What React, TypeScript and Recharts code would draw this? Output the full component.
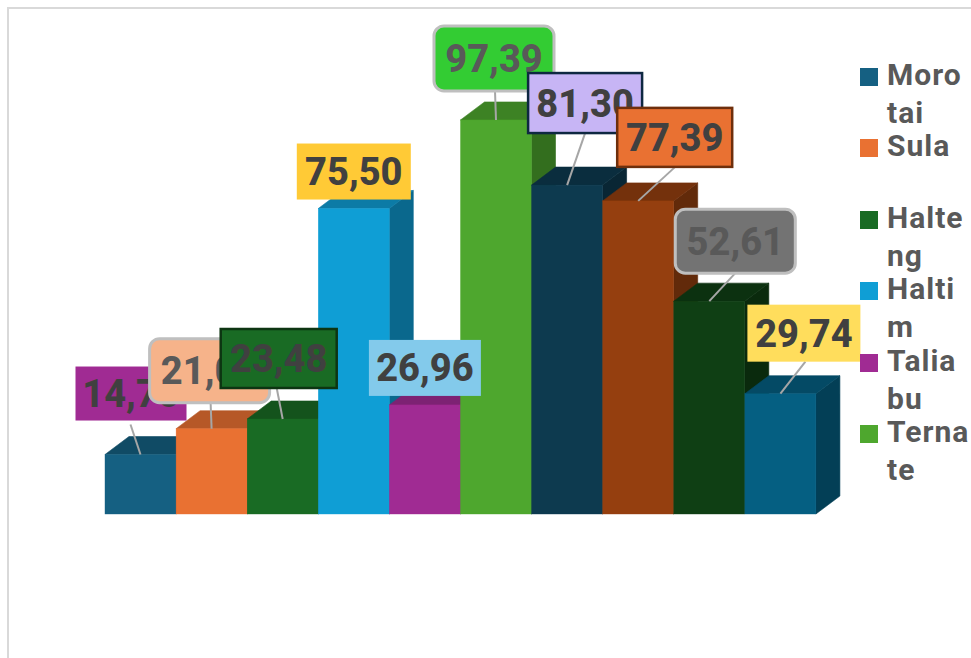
import { BarChart, Bar, XAxis, YAxis, Legend, LabelList } from "recharts";

const categories = ["Morotai", "Sula", "Halteng", "Haltim", "Taliabu", "Ternate", "7", "8", "9", "10"];
const values = [14.7, 21.08, 23.48, 75.5, 26.96, 97.39, 81.3, 77.39, 52.61, 29.74];
const legendNames = ["Morotai", "Sula", "Halteng", "Haltim", "Taliabu", "Ternate"];

const barColors = ["#156082", "#e97132", "#196b24", "#0f9ed5", "#a02b93", "#4ea72e", "#0d3a4f", "#953f0f", "#0f3f14", "#055f82"];

// label box: offset from the top centre of the bar, size, look, leader start
const labelBoxes = [
  { dx: -65, dy: -88, w: 111, h: 54, fill: "#a02b93", stroke: "none", rx: 0, text: "#404040", lx: -10, ly: -30 },
  { dx: -62, dy: -90, w: 120, h: 64, fill: "#f6b38a", stroke: "#bfbfbf", rx: 10, text: "#595959", lx: -1, ly: -26 },
  { dx: -62, dy: -90, w: 116, h: 59, fill: "#196b24", stroke: "#0d3512", rx: 0, text: "#404040", lx: -6, ly: -31 },
  { dx: -57, dy: -65, w: 114, h: 56, fill: "#ffca36", stroke: "none", rx: 0, text: "#404040", lx: 0, ly: 0 },
  { dx: -56, dy: -65, w: 112, h: 56, fill: "#83caeb", stroke: "none", rx: 0, text: "#404040", lx: 0, ly: 0 },
  { dx: -62, dy: -94, w: 120, h: 65, fill: "#33cc33", stroke: "#bfbfbf", rx: 10, text: "#595959", lx: -1, ly: -29 },
  { dx: -39, dy: -112, w: 114, h: 60, fill: "#c7b5f5", stroke: "#0e2841", rx: 0, text: "#404040", lx: 18, ly: -52 },
  { dx: -21, dy: -93, w: 115, h: 59, fill: "#e97132", stroke: "#6e2f0c", rx: 0, text: "#404040", lx: 37, ly: -34 },
  { dx: -34, dy: -92, w: 120, h: 64, fill: "#737373", stroke: "#bfbfbf", rx: 10, text: "#595959", lx: 26, ly: -28 },
  { dx: -33, dy: -89, w: 113, h: 57, fill: "#ffdd5c", stroke: "none", rx: 0, text: "#404040", lx: 25, ly: -32 },
];

const rows = categories.map((name, i) => ({ name, value: values[i] }));

const DEPTH_X = 24;
const DEPTH_Y = 18;

function shade(hex: string, k: number) {
  const n = parseInt(hex.slice(1), 16);
  const r = Math.round(((n >> 16) & 255) * k);
  const g = Math.round(((n >> 8) & 255) * k);
  const b = Math.round((n & 255) * k);
  return `rgb(${r},${g},${b})`;
}

function Bar3D(props: any) {
  const { x, y, width, height, index } = props;
  const c = barColors[index];
  const right = x + width;
  const bottom = y + height;
  const side = shade(c, 0.66);
  const top = shade(c, 0.78);
  return (
    <g>
      <polygon
        points={`${right},${y} ${right + DEPTH_X},${y - DEPTH_Y} ${right + DEPTH_X},${bottom - DEPTH_Y} ${right},${bottom}`}
        fill={side}
        stroke={side}
        strokeWidth={0.6}
      />
      <polygon
        points={`${x},${y} ${x + DEPTH_X},${y - DEPTH_Y} ${right + DEPTH_X},${y - DEPTH_Y} ${right},${y}`}
        fill={top}
        stroke={top}
        strokeWidth={0.6}
      />
      <rect x={x} y={y} width={width} height={height} fill={c} stroke={c} strokeWidth={0.4} />
    </g>
  );
}

function ValueLabel(props: any) {
  const { index, value } = props;
  const vb = props.viewBox ?? props;
  const cx = vb.x + vb.width / 2;
  const top = vb.y;
  const b = labelBoxes[index];
  const bx = cx + b.dx;
  const by = top + b.dy;
  return (
    <g>
      {b.lx !== 0 || b.ly !== 0 ? (
        <line x1={cx + b.lx} y1={top + b.ly} x2={cx} y2={top} stroke="#a6a6a6" strokeWidth={2} />
      ) : null}
      <rect
        x={bx}
        y={by}
        width={b.w}
        height={b.h}
        rx={b.rx}
        fill={b.fill}
        stroke={b.stroke}
        strokeWidth={b.rx ? 3 : 2.5}
      />
      <text
        x={bx + b.w / 2}
        y={by + b.h / 2 + 13.5}
        textAnchor="middle"
        fontFamily="Roboto"
        fontWeight={800}
        fontSize={38}
        fill={b.text}
      >
        {Number(value).toFixed(2).replace(".", ",")}
      </text>
    </g>
  );
}

function LegendList() {
  return (
    <div style={{ fontFamily: "Roboto", fontWeight: 700, fontSize: 30, letterSpacing: 1, color: "#595959" }}>
      {legendNames.map((name, i) => (
        <div key={name} style={{ display: "flex", height: 71.4 }}>
          <div style={{ width: 18, height: 18, marginTop: 8, marginRight: 9, flex: "none", background: barColors[i] }} />
          <div style={{ width: 83, lineHeight: "38px", marginTop: -4, wordBreak: "break-all" }}>{name}</div>
        </div>
      ))}
    </div>
  );
}

export default function App() {
  return (
    <div style={{ position: "absolute", left: 0, top: 0, width: 971, height: 658, overflow: "hidden", background: "#fff" }}>
      <div style={{ position: "absolute", left: 7, top: 7, right: 0, bottom: 0, borderLeft: "2px solid #d9d9d9", borderTop: "2px solid #d9d9d9" }} />
      <BarChart
        width={971}
        height={658}
        data={rows}
        barCategoryGap={0}
        margin={{ top: 109.4, right: 155, bottom: 144, left: 105 }}
      >
        <XAxis dataKey="name" hide />
        <YAxis hide domain={[0, 100]} />
        <Legend
          layout="vertical"
          align="center"
          verticalAlign="middle"
          content={<LegendList />}
          wrapperStyle={{ left: 860, top: 60, width: 111, height: 440 }}
        />
        <Bar dataKey="value" shape={<Bar3D />} isAnimationActive={false}>
          <LabelList dataKey="value" content={<ValueLabel />} />
        </Bar>
      </BarChart>
    </div>
  );
}
